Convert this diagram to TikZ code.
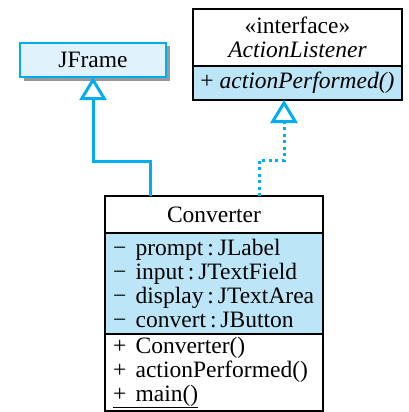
\documentclass[tikz,border=0pt]{standalone}
\usepackage{fontspec}
\setmainfont{Liberation Serif}
\usepackage{xcolor}
\usepackage{tikz}
\definecolor{umlcyan}{RGB}{0,174,239}
\definecolor{umlblue}{RGB}{188,229,248}
\definecolor{umlpale}{RGB}{224,242,251}
\usetikzlibrary{arrows.meta,positioning,backgrounds}

\begin{document}
\begin{tikzpicture}[
    x=1pt, y=-1pt,
    font=\fontsize{23.5}{24}\selectfont,
    compart/.style={rectangle, draw=black, line width=1.2pt, fill=white, outer sep=0pt, inner sep=0pt, minimum width=218pt},
    members/.style={compart, fill=umlblue, text width=202pt, inner xsep=8pt, align=left},
    inherit/.style={draw=umlcyan, line width=3pt, -{Triangle[open, width=27pt, length=23pt]}},
    realize/.style={inherit, dash pattern=on 3pt off 3.5pt}
]
\useasboundingbox (0,0) rectangle (408,412);

% Superclass
\node[rectangle, draw=umlcyan, line width=2pt, fill=umlpale, outer sep=0pt, minimum width=146pt, minimum height=34pt] (jframe) at (93,60) {JFrame};
\begin{scope}[on background layer]
  \fill[black!40] ([shift={(3.5,3.5)}]jframe.north west) rectangle ([shift={(3.5,3.5)}]jframe.south east);
\end{scope}

% Interface
\node[compart, minimum width=209pt, minimum height=57pt, align=center] (iface) at (297.5,37.5)
    {«interface»\\\textit{ActionListener}};
\node[compart, fill=umlblue, minimum width=209pt, minimum height=34pt, below=0pt of iface] (ifaceops)
    {+ \textit{actionPerformed()}};

% Class
\node[compart, minimum height=37pt] (conv) at (214,214.5) {Converter};
\node[members, minimum height=101pt, below=0pt of conv] (convattr)
    {−\hspace{0.4em}prompt\,:\,JLabel\\
     −\hspace{0.4em}input\,:\,JTextField\\
     −\hspace{0.4em}display\,:\,JTextArea\\
     −\hspace{0.4em}convert\,:\,JButton};
\node[members, fill=white, minimum height=77pt, below=0pt of convattr] (convops)
    {+\hspace{0.4em}Converter()\\
     +\hspace{0.4em}actionPerformed()\\
     \underline{+\hspace{0.4em}main()}};

% Connectors
\coordinate (bendL) at (150,161);
\coordinate (bendR) at (259,160);
\draw[inherit] (conv.north -| bendL) -- (bendL) -| (jframe.south);
\draw[realize] (conv.north -| bendR) -- (bendR) -| ([xshift=-13.5pt]ifaceops.south);

\end{tikzpicture}
\end{document}
